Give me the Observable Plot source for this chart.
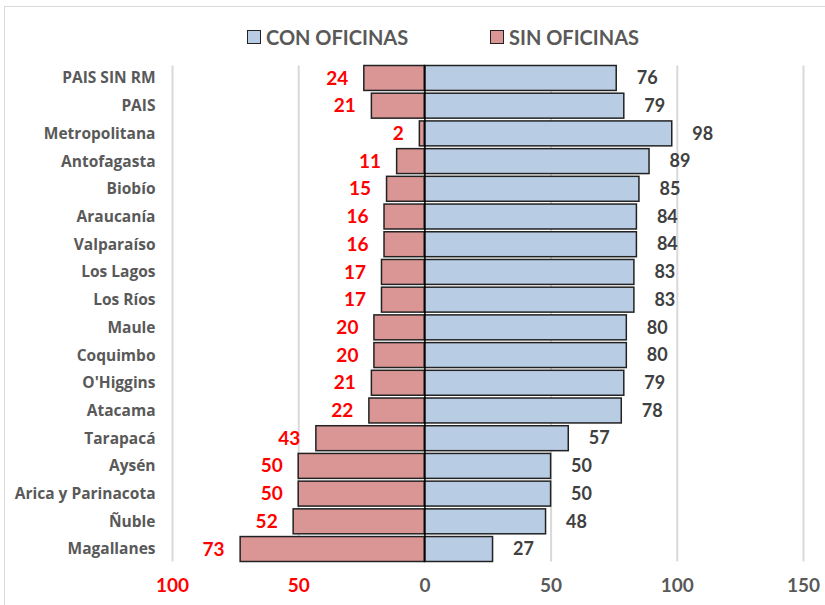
<!DOCTYPE html>
<html>
<head>
<meta charset="utf-8">
<script src="https://cdn.jsdelivr.net/npm/d3@7"></script>
<script src="https://cdn.jsdelivr.net/npm/@observablehq/plot@0.6"></script>
<style>
  body { margin: 0; background: #fff; }
  #wrap { position: relative; width: 825px; height: 605px; overflow: hidden; font-family: Lato, "Open Sans", sans-serif; }
  #frame { position: absolute; left: 4px; top: 6px; width: 840px; height: 620px; border: 1px solid #d9d9d9; box-sizing: border-box; }
  #legend { position: relative; height: 60px; }
  .item { position: absolute; top: 25px; display: flex; align-items: center; font-weight: 700; font-size: 20px; color: #595959; }
  .sw { width: 12px; height: 12px; border: 1.5px solid #222; margin-right: 5px; }
  #chart svg { display: block; }
</style>
</head>
<body>
<div id="wrap">
  <div id="frame"></div>
  <div id="legend"></div>
  <div id="chart"></div>
</div>
<script>
const regions = ["PAIS SIN RM","PAIS","Metropolitana","Antofagasta","Biobío","Araucanía","Valparaíso","Los Lagos","Los Ríos","Maule","Coquimbo","O'Higgins","Atacama","Tarapacá","Aysén","Arica y Parinacota","Ñuble","Magallanes"];
const conOficinas = [76,79,98,89,85,84,84,83,83,80,80,79,78,57,50,50,48,27];
const sinOficinas = [24,21,2,11,15,16,16,17,17,20,20,21,22,43,50,50,52,73];
const tickValues = [-100,-50,0,50,100,150];
const seriesNames = ["CON OFICINAS","SIN OFICINAS"];
const colors = ["#B8CCE4","#DA9694"];

const data = regions.map((r,i) => ({region: r, con: conOficinas[i], sin: sinOficinas[i]}));

// legend
const legend = document.getElementById("legend");
const lx = [247, 490];
seriesNames.forEach((n,i) => {
  const d = document.createElement("div");
  d.className = "item";
  d.style.left = lx[i] + "px";
  d.innerHTML = `<span class="sw" style="background:${colors[i]}"></span><span>${n}</span>`;
  legend.appendChild(d);
});

const chart = Plot.plot({
  width: 825,
  height: 545,
  marginTop: 5.5,
  marginBottom: 43.5,
  marginLeft: 172,
  marginRight: 22,
  style: {fontFamily: "Lato, 'Open Sans', sans-serif", background: "transparent"},
  x: {domain: [-100, 150], axis: null},
  y: {domain: regions, paddingInner: 0.1, paddingOuter: 0, round: false, axis: null},
  marks: [
    Plot.ruleX([-100,-50,50,100,150], {stroke: "#d9d9d9", strokeWidth: 2}),
    Plot.barX(data, {y: "region", x: d => -d.sin, fill: colors[1], stroke: "#222", strokeWidth: 1.5}),
    Plot.barX(data, {y: "region", x: "con", fill: colors[0], stroke: "#222", strokeWidth: 1.5}),
    Plot.ruleX([0], {stroke: "#000", strokeWidth: 1.5}),
    Plot.text(data, {y: "region", x: d => -d.sin, text: d => String(d.sin), textAnchor: "end", dx: -16, fill: "#ff0000", fontWeight: 700, fontSize: 19}),
    Plot.text(data, {y: "region", x: "con", text: d => String(d.con), textAnchor: "start", dx: 20, fill: "#404040", fontWeight: 700, fontSize: 18}),
    Plot.text(regions, {y: d => d, frameAnchor: "left", text: d => d, textAnchor: "end", dx: -17, fill: "#595959", fontWeight: 700, fontSize: 15.5, fontFamily: "'Open Sans', sans-serif"}),
    Plot.text(tickValues, {x: d => d, frameAnchor: "bottom", text: d => String(Math.abs(d)), dy: 30, fill: d => d < 0 ? "#ff0000" : "#595959", fontWeight: 700, fontSize: 19})
  ]
});
document.getElementById("chart").appendChild(chart);
</script>
</body>
</html>
